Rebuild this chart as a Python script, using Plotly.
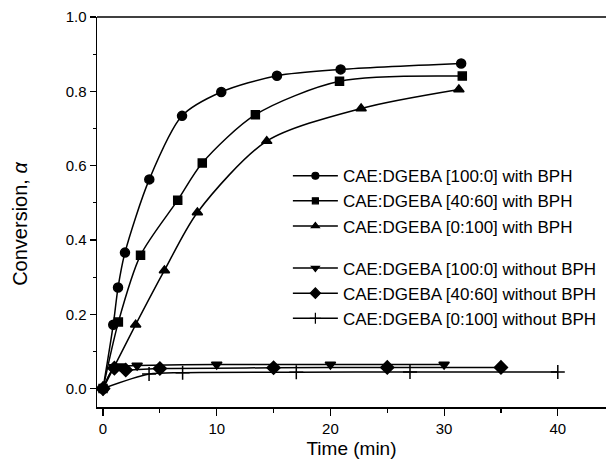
import plotly.graph_objects as go

# ---- data ----
t_100_bph = [0, 0.9, 1.32, 1.93, 4.07, 6.95, 10.4, 15.3, 20.9, 31.5]
a_100_bph = [0, 0.172, 0.272, 0.366, 0.563, 0.734, 0.798, 0.842, 0.859, 0.875]

t_4060_bph = [0, 1.35, 3.3, 6.57, 8.73, 13.4, 20.8, 31.6]
a_4060_bph = [0, 0.179, 0.359, 0.507, 0.607, 0.737, 0.827, 0.841]

t_0100_bph = [0, 2.87, 5.4, 8.3, 14.4, 22.7, 31.3]
a_0100_bph = [0, 0.172, 0.318, 0.474, 0.666, 0.754, 0.805]

t_100_nobph = [0, 1.0, 1.5, 3.0, 10, 20, 30]
a_100_nobph = [0, 0.058, 0.060, 0.062, 0.065, 0.065, 0.065]

t_4060_nobph = [0, 1.0, 2.0, 5.0, 15, 25, 35]
a_4060_nobph = [0, 0.055, 0.050, 0.054, 0.056, 0.057, 0.057]

t_0100_nobph = [0, 4.05, 7.0, 17, 27, 40]
a_0100_nobph = [0, 0.039, 0.043, 0.044, 0.045, 0.045]

names = [
    "CAE:DGEBA [100:0] with BPH",
    "CAE:DGEBA [40:60] with BPH",
    "CAE:DGEBA [0:100] with BPH",
    "CAE:DGEBA [100:0] without BPH",
    "CAE:DGEBA [40:60] without BPH",
    "CAE:DGEBA [0:100] without BPH",
]
series = [
    (t_100_bph, a_100_bph, "circle", 9, 7, "g1"),
    (t_4060_bph, a_4060_bph, "square", 8, 6, "g1"),
    (t_0100_bph, a_0100_bph, "triangle-up", 9, 7, "g1"),
    (t_100_nobph, a_100_nobph, "triangle-down", 9, 7, "g2"),
    (t_4060_nobph, a_4060_nobph, "diamond", 10, 8, "g2"),
    (t_0100_nobph, a_0100_nobph, "cross-thin", 10, 8, "g2"),
]

FONT = "Liberation Sans, Arial, sans-serif"
fig = go.Figure()
for name, (tx, ay, sym, sz, lsz, grp) in zip(names, series):
    fig.add_trace(go.Scatter(
        x=tx, y=ay, name=name, mode="lines+markers",
        legendgroup=grp, showlegend=False,
        line=dict(color="black", width=1.5, shape="spline", smoothing=0.8),
        marker=dict(symbol=sym, size=sz, color="black",
                    line=dict(color="black", width=1.5)),
    ))
    # legend-only entry with the smaller key symbol of the reference
    fig.add_trace(go.Scatter(
        x=[None], y=[None], name=name, mode="lines+markers",
        legendgroup=grp, showlegend=True,
        line=dict(color="black", width=1.5),
        marker=dict(symbol=sym, size=lsz, color="black",
                    line=dict(color="black", width=1.2)),
    ))

fig.update_layout(
    width=606, height=466,
    margin=dict(l=97, r=0, t=17, b=59, autoexpand=False),
    paper_bgcolor="white", plot_bgcolor="white",
    font=dict(family=FONT, color="black", size=15),
    hovermode=False,
    showlegend=True,
    legend=dict(
        x=0.375, y=0.638, xanchor="left", yanchor="top",
        bgcolor="rgba(0,0,0,0)", borderwidth=0,
        font=dict(family=FONT, size=17, color="black"),
        tracegroupgap=17, traceorder="grouped",
        itemwidth=45,
    ),
    xaxis=dict(
        range=[-0.53, 44.24], showgrid=False, zeroline=False,
        showline=True, linecolor="black", linewidth=1.5, mirror=False,
        ticks="outside", ticklen=7, tickwidth=1.2, tickcolor="black",
        tickmode="array", tickvals=[0, 10, 20, 30, 40],
        minor=dict(tickvals=[5, 15, 25, 35], ticks="outside", ticklen=4,
                   tickwidth=1.2, tickcolor="black"),
        tickfont=dict(size=15, family=FONT, color="black"),
        title=dict(text="Time (min)", font=dict(size=19, family=FONT), standoff=6),
        automargin=False,
    ),
    yaxis=dict(
        range=[-0.0495, 1.0], showgrid=False, zeroline=False,
        showline=True, linecolor="black", linewidth=1.5,
        ticks="outside", ticklen=6, tickwidth=1.2, tickcolor="black",
        tickmode="array", tickvals=[0, 0.2, 0.4, 0.6, 0.8, 1.0],
        tickformat=".1f",
        minor=dict(tickvals=[0.1, 0.3, 0.5, 0.7, 0.9], ticks="outside",
                   ticklen=3, tickwidth=1.2, tickcolor="black"),
        tickfont=dict(size=15, family=FONT, color="black"),
        automargin=False,
    ),
    shapes=[dict(type="line", xref="paper", yref="paper", x0=0, x1=1, y0=1, y1=1,
                 line=dict(color="black", width=1.5))],
    annotations=[dict(
        text="Conversion, <i>α</i>", textangle=-90,
        xref="paper", yref="paper", x=-0.151, y=0.47,
        xanchor="center", yanchor="middle", showarrow=False,
        font=dict(size=20, family=FONT, color="black"),
    )],
)

fig.write_html(
    "out.html",
    config={"displayModeBar": False, "staticPlot": True},
    post_script=("document.body.style.margin='0';document.body.style.overflow='hidden';"
                 "document.documentElement.style.overflow='hidden';"),
)
